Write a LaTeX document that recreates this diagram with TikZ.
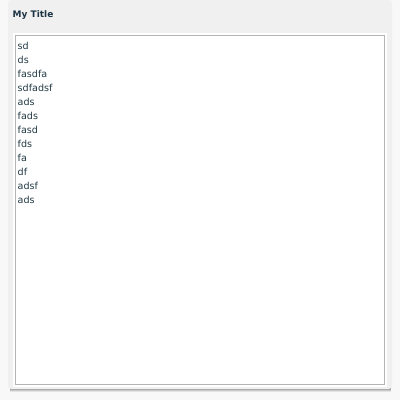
\documentclass[tikz,border=0pt]{standalone}
\usepackage{fontspec}
\setmainfont{DejaVu Sans}
\definecolor{canvas}{HTML}{F8F8F8}
\definecolor{panel}{HTML}{F0F0F0}
\definecolor{frame}{HTML}{B4B4B4}
\definecolor{ink}{HTML}{233A45}
\definecolor{titleink}{HTML}{1C3444}
\tikzset{
  entry/.style={anchor=base west,inner sep=0pt,text=ink,font=\fontsize{9.6}{10}\selectfont},
  heading/.style={anchor=base west,inner sep=0pt,text=titleink,font=\fontsize{9}{10}\selectfont\bfseries}
}
\begin{document}
\begin{tikzpicture}[x=1pt,y=-1pt]
\useasboundingbox[fill=canvas] (0,0) rectangle (400,400);
% shadow under the panel
\foreach \d/\o in {4/0.08,3/0.12,2/0.18,1/0.25}
  \fill[black,opacity=\o] (10,388) rectangle (391,388+\d);
\fill[panel,rounded corners=3pt] (8,0) rectangle (392,389);
\node[heading] (title) at (12.5,17) {My Title};
% text box
\draw[white,line width=2pt] (14,34) rectangle (386,386);
\draw[frame,fill=white,line width=0.8pt] (15.5,35.5) rectangle (384.5,384.5);
\foreach \t [count=\i] in {sd,ds,fasdfa,sdfadsf,ads,fads,fasd,fds,fa,df,adsf,ads}
  \node[entry] (line\i) at (17.5,35+14*\i) {\t};
\end{tikzpicture}
\end{document}
